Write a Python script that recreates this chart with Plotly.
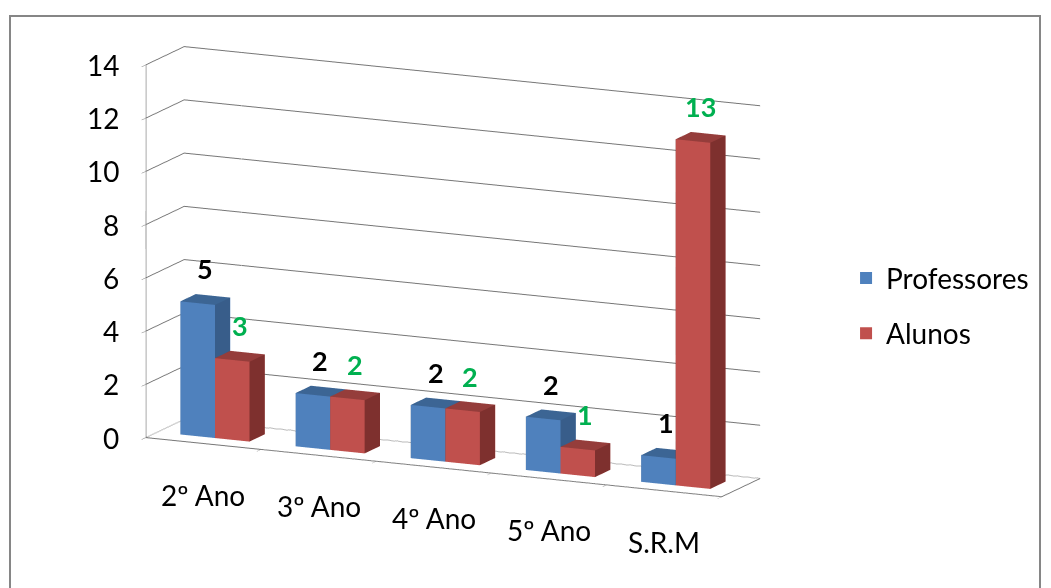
import plotly.graph_objects as go

# Survey counts per group
categorias = ["2º Ano", "3º Ano", "4º Ano", "5º Ano", "S.R.M"]
professores = [5, 2, 2, 2, 1]
alunos = [3, 2, 2, 1, 13]
ticks_valor = [0, 2, 4, 6, 8, 10, 12, 14]

FONT = "Lato"
BAR_W = 0.3
DEPTH = (0.3, 0.7)
N = len(categorias)
BLUE, RED, GREEN = "#4F81BD", "#C0504D", "#00B050"
GRID = "#767676"


def box_mesh(values, offset, front, top, side):
    """Build one Mesh3d of 3D columns, one column per category."""
    xs, ys, zs, ii, jj, kk, fc = [], [], [], [], [], [], []
    y0, y1 = DEPTH
    for idx, v in enumerate(values):
        x0 = idx + offset
        x1 = x0 + BAR_W
        base = len(xs)
        corners = [
            (x0, y0, 0), (x1, y0, 0), (x1, y1, 0), (x0, y1, 0),
            (x0, y0, v), (x1, y0, v), (x1, y1, v), (x0, y1, v),
        ]
        for cx, cy, cz in corners:
            xs.append(cx); ys.append(cy); zs.append(cz)
        faces = [
            ((0, 1, 5), front), ((0, 5, 4), front),   # front
            ((4, 5, 6), top), ((4, 6, 7), top),       # top
            ((1, 2, 6), side), ((1, 6, 5), side),     # right
            ((0, 3, 7), side), ((0, 7, 4), side),     # left
            ((3, 2, 6), front), ((3, 6, 7), front),   # back
            ((0, 1, 2), front), ((0, 2, 3), front),   # bottom
        ]
        for (a, b, c), col in faces:
            ii.append(base + a); jj.append(base + b); kk.append(base + c)
            fc.append(col)
    return go.Mesh3d(
        x=xs, y=ys, z=zs, i=ii, j=jj, k=kk, facecolor=fc,
        flatshading=True, showlegend=False,
        lighting=dict(ambient=1, diffuse=0, specular=0, fresnel=0, roughness=1),
        hoverinfo="skip",
    )


fig = go.Figure()
fig.add_trace(box_mesh(professores, -BAR_W, BLUE, "#3C6594", "#385D8A"))
fig.add_trace(box_mesh(alunos, 0.0, RED, "#953D3B", "#7E302E"))

# legend entries
for nome, cor in [("Professores", BLUE), ("Alunos", RED)]:
    fig.add_trace(go.Scatter3d(x=[None], y=[None], z=[None], mode="markers", name=nome,
                               legendgroup=nome,
                               marker=dict(symbol="square", size=18, color=cor)))

annotations = []
# value labels above each column
ymid = sum(DEPTH) / 2
for i in range(N):
    annotations.append(dict(x=i - BAR_W / 2, y=ymid, z=professores[i], text=f"<b>{professores[i]}</b>",
                            showarrow=False, yanchor="bottom", yshift=12,
                            font=dict(family=FONT, size=27, color="black")))
    annotations.append(dict(x=i + BAR_W / 2, y=ymid, z=alunos[i], text=f"<b>{alunos[i]}</b>",
                            showarrow=False, yanchor="bottom", yshift=12,
                            font=dict(family=FONT, size=27, color=GREEN)))
# value-axis labels
for t in ticks_valor:
    annotations.append(dict(x=-0.5, y=0, z=t, text=str(t), showarrow=False,
                            xanchor="right", xshift=-25,
                            font=dict(family=FONT, size=28, color="black")))
# category labels
for i, c in enumerate(categorias):
    annotations.append(dict(x=i, y=0, z=0, text=c, showarrow=False,
                            yanchor="top", yshift=-32,
                            font=dict(family=FONT, size=28, color="black")))

axis_common = dict(showbackground=False, showspikes=False, title=dict(text=""),
                   linecolor=GRID, linewidth=2, showticklabels=False)
fig.update_layout(
    width=1051, height=588,
    margin=dict(l=0, r=0, t=0, b=0),
    paper_bgcolor="white",
    font=dict(family=FONT, size=22, color="black"),
    scene=dict(
        domain=dict(x=[0.0, 0.877], y=[0.0, 1.0]),
        xaxis=dict(axis_common, range=[-0.5, N - 0.5],
                   tickvals=[i - 0.5 for i in range(N + 1)],
                   showgrid=False, showline=True, ticks="outside", ticklen=10,
                   tickcolor=GRID),
        yaxis=dict(axis_common, range=[0, 1], showgrid=False, ticks="", showline=True),
        zaxis=dict(axis_common, range=[0, 14], tickvals=ticks_valor,
                   showgrid=True, gridcolor=GRID, gridwidth=2,
                   showline=True, ticks="outside", ticklen=10, tickcolor=GRID),
        aspectmode="manual", aspectratio=dict(x=2.16, y=0.31, z=1.30),
        camera=dict(eye=dict(x=0.95, y=-1.98, z=0.42), center=dict(x=0.03, y=0, z=-0.075),
                    projection=dict(type="orthographic")),
        annotations=annotations,
    ),
    legend=dict(x=0.805, y=0.48, yanchor="middle", font=dict(family=FONT, size=28),
                itemsizing="constant", bgcolor="rgba(0,0,0,0)", tracegroupgap=16),
    shapes=[dict(type="rect", xref="paper", yref="paper",
                 x0=10 / 1051, x1=1040 / 1051, y0=-0.05, y1=1 - 16 / 588,
                 line=dict(color="#868686", width=2))],
)

fig.write_html("out.html")
